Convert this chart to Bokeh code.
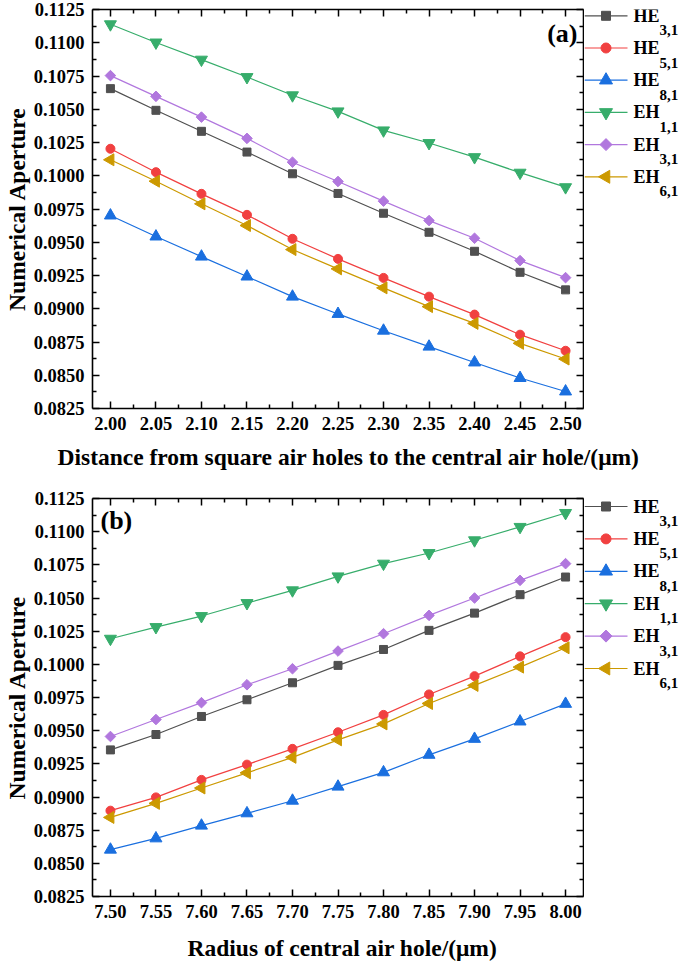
import math
from bokeh.plotting import figure
from bokeh.models import (LinearAxis, FixedTicker, NumeralTickFormatter, Range1d,
                          Label, Title, CustomJSTickFormatter)
from bokeh.core.properties import value
from bokeh.layouts import column, row
from bokeh.embed import file_html
from bokeh.resources import INLINE

# ---------------- data ----------------
x_a = [2.00, 2.05, 2.10, 2.15, 2.20, 2.25, 2.30, 2.35, 2.40, 2.45, 2.50]
he31_a = [0.10655, 0.10492, 0.10334, 0.10178, 0.10015, 0.09867, 0.09718, 0.09575, 0.09432, 0.09274, 0.09142]
he51_a = [0.10203, 0.10027, 0.09864, 0.09706, 0.09526, 0.09375, 0.09232, 0.09091, 0.08956, 0.08805, 0.08684]
he81_a = [0.09701, 0.09543, 0.09392, 0.09242, 0.09091, 0.08961, 0.08835, 0.08715, 0.08596, 0.08479, 0.08378]
eh11_a = [0.11139, 0.11002, 0.10873, 0.10742, 0.10605, 0.10484, 0.10341, 0.10246, 0.10140, 0.10023, 0.09914]
eh31_a = [0.10753, 0.10597, 0.10441, 0.10281, 0.10102, 0.09957, 0.09809, 0.09663, 0.09530, 0.09362, 0.09234]
eh61_a = [0.10120, 0.09959, 0.09789, 0.09626, 0.09445, 0.09300, 0.09157, 0.09016, 0.08890, 0.08740, 0.08622]

x_b = [7.50, 7.55, 7.60, 7.65, 7.70, 7.75, 7.80, 7.85, 7.90, 7.95, 8.00]
he31_b = [0.09355, 0.09471, 0.09607, 0.09733, 0.09861, 0.09992, 0.10112, 0.10256, 0.10386, 0.10525, 0.10658]
he51_b = [0.08897, 0.08997, 0.09129, 0.09244, 0.09363, 0.09488, 0.09619, 0.09773, 0.09911, 0.10060, 0.10205]
he81_b = [0.08603, 0.08688, 0.08784, 0.08877, 0.08972, 0.09078, 0.09186, 0.09318, 0.09438, 0.09569, 0.09702]
eh11_b = [0.10193, 0.10281, 0.10364, 0.10462, 0.10558, 0.10663, 0.10759, 0.10839, 0.10935, 0.11036, 0.11141]
eh31_b = [0.09456, 0.09584, 0.09711, 0.09846, 0.09967, 0.10100, 0.10231, 0.10369, 0.10500, 0.10633, 0.10759]
eh61_b = [0.08846, 0.08952, 0.09068, 0.09182, 0.09299, 0.09431, 0.09551, 0.09705, 0.09841, 0.09979, 0.10125]

mode_names = ["HE", "HE", "HE", "EH", "EH", "EH"]
mode_subs = ["3,1", "5,1", "8,1", "1,1", "3,1", "6,1"]

y_ticks = [0.0825, 0.0850, 0.0875, 0.0900, 0.0925, 0.0950, 0.0975, 0.1000,
           0.1025, 0.1050, 0.1075, 0.1100, 0.1125]
y_minor = [0.08375, 0.08625, 0.08875, 0.09125, 0.09375, 0.09625, 0.09875,
           0.10125, 0.10375, 0.10625, 0.10875, 0.11125]
xa_ticks = [2.00, 2.05, 2.10, 2.15, 2.20, 2.25, 2.30, 2.35, 2.40, 2.45, 2.50]
xa_minor = [2.025, 2.075, 2.125, 2.175, 2.225, 2.275, 2.325, 2.375, 2.425, 2.475]
xb_ticks = [7.50, 7.55, 7.60, 7.65, 7.70, 7.75, 7.80, 7.85, 7.90, 7.95, 8.00]
xb_minor = [7.525, 7.575, 7.625, 7.675, 7.725, 7.775, 7.825, 7.875, 7.925, 7.975]

colors = ["#505050", "#F14040", "#1A6FDF", "#37AD6B", "#B177DE", "#CC9900"]
markers = [("square", 0.0, 8), ("circle", 0.0, 9), ("triangle", 0.0, 12),
           ("inverted_triangle", 0.0, 12), ("square", math.pi / 4, 7.5),
           ("triangle", math.pi / 2, 12)]

FONT = "Liberation Serif"
MAIN_W = 584
LEG_W = 101
BL = 89
BR = 1


def style_axis(ax, show_labels=True):
    ax.axis_line_width = 1.6
    ax.axis_line_color = "black"
    ax.major_tick_in = 7
    ax.major_tick_out = 0
    ax.minor_tick_in = 4
    ax.minor_tick_out = 0
    ax.major_tick_line_width = 1.5
    ax.minor_tick_line_width = 1.5
    ax.major_tick_line_color = "black"
    ax.minor_tick_line_color = "black"
    ax.major_label_text_font = FONT
    ax.major_label_text_font_style = "bold"
    ax.major_label_text_color = "black"
    ax.major_label_text_font_size = "18.5px"
    if show_labels:
        ax.major_label_standoff = 8
    else:
        ax.formatter = CustomJSTickFormatter(code="return ''")
        ax.major_label_standoff = 0
    ax.axis_label_text_font = FONT
    ax.axis_label_text_font_style = "bold"
    ax.axis_label_text_font_size = "23.5px"
    ax.axis_label_text_color = "black"


def make_panel(xs, series, xticks, xminor, xr, tag, height,
               b_top, b_bottom, rows, tag_pos):
    p = figure(width=MAIN_W, height=height, output_backend="svg", toolbar_location=None,
               x_range=Range1d(*xr), y_range=Range1d(0.0825, 0.1125),
               min_border_left=BL, min_border_right=BR,
               min_border_top=b_top, min_border_bottom=b_bottom)
    p.outline_line_color = None
    p.xgrid.visible = False
    p.ygrid.visible = False
    p.background_fill_color = "white"
    p.border_fill_color = "white"

    p.xaxis.ticker = FixedTicker(ticks=xticks, minor_ticks=xminor)
    p.xaxis.formatter = NumeralTickFormatter(format="0.00")
    p.yaxis.ticker = FixedTicker(ticks=y_ticks, minor_ticks=y_minor)
    p.yaxis.formatter = NumeralTickFormatter(format="0.0000")
    p.yaxis.axis_label = "Numerical Aperture"
    style_axis(p.xaxis[0])
    style_axis(p.yaxis[0])
    p.xaxis[0].major_label_standoff = 8
    p.yaxis[0].major_label_standoff = 8
    p.yaxis[0].axis_label_standoff = 1

    top_ax = LinearAxis(ticker=FixedTicker(ticks=xticks, minor_ticks=xminor))
    right_ax = LinearAxis(ticker=FixedTicker(ticks=y_ticks, minor_ticks=y_minor))
    style_axis(top_ax, False)
    style_axis(right_ax, False)
    p.add_layout(top_ax, "above")
    p.add_layout(right_ax, "right")

    for i, ys in enumerate(series):
        c = colors[i]
        mk, ang, sz = markers[i]
        p.line(xs, ys, line_color=c, line_width=1.2)
        p.scatter(xs, ys, marker=mk, angle=ang, size=sz, fill_color=c, line_color=c)

    frame_h = height - b_top - b_bottom
    tx, ty, align = tag_pos
    p.add_layout(Label(x=tx, y=frame_h - (ty - b_top), x_units="screen", y_units="screen",
                       text=tag, text_font=FONT, text_font_style="bold",
                       text_font_size="26px", text_baseline="middle",
                       text_align=align, text_color="black"))

    # legend column: its frame is aligned with the plot frame; data units = canvas pixels
    lf = figure(width=LEG_W, height=height, output_backend="svg", toolbar_location=None,
                x_range=Range1d(0, LEG_W), y_range=Range1d(height - b_bottom, b_top),
                x_axis_type=None, y_axis_type=None,
                min_border_left=0, min_border_right=0,
                min_border_top=b_top, min_border_bottom=b_bottom)
    lf.outline_line_color = None
    lf.xgrid.visible = False
    lf.ygrid.visible = False
    lf.background_fill_color = "white"
    lf.border_fill_color = "white"
    lf.segment(x0=[0] * 6, x1=[43] * 6, y0=rows, y1=rows, line_color=colors, line_width=1.2)
    for i in range(6):
        mk, ang, sz = markers[i]
        lf.scatter(x=[21.5], y=[rows[i]], marker=mk, angle=ang, size=sz + 1,
                   fill_color=colors[i], line_color=colors[i])
    lf.text(x=[49] * 6, y=rows, text=mode_names, text_font=value(FONT),
            text_font_style="bold", text_font_size="18px", text_baseline="middle",
            text_align="left", text_color="black")
    lf.text(x=[75] * 6, y=[r + 14.5 for r in rows], text=mode_subs, text_font=value(FONT),
            text_font_style="bold", text_font_size="15px", text_baseline="alphabetic",
            text_align="left", text_color="black")
    return row(p, lf, spacing=0)


def title_strip(text, height, top, left):
    t = figure(width=MAIN_W + LEG_W, height=height, output_backend="svg", toolbar_location=None,
               x_axis_type=None, y_axis_type=None,
               min_border_left=0, min_border_right=0, min_border_top=top, min_border_bottom=0)
    t.outline_line_color = None
    t.xgrid.visible = False
    t.ygrid.visible = False
    t.title = None
    t.add_layout(Title(text=text, align="left", offset=left, standoff=0,
                       text_font=FONT, text_font_style="bold", text_font_size="23.5px",
                       text_color="black"), "above")
    return t


series_a = [he31_a, he51_a, he81_a, eh11_a, eh31_a, eh61_a]
series_b = [he31_b, he51_b, he81_b, eh11_b, eh31_b, eh61_b]

rows_a = [15.3 + 32.2 * i for i in range(6)]
rows_b = [32 + 32.4 * i for i in range(6)]

# panel (a): canvas 0..437, frame 9..408
ra = make_panel(x_a, series_a, xa_ticks, xa_minor, (1.9803, 2.5197), "(a)",
                437, 9, 29, rows_a, (485, 33, "right"))
ta = title_strip("Distance from square air holes to the central air hole/(\u03bcm)", 37, 32, 57)
# panel (b): canvas 474..925, frame 498..896
rb = make_panel(x_b, series_b, xb_ticks, xb_minor, (7.4803, 8.0197), "(b)",
                451, 24, 29, rows_b, (8, 46, "left"))
tb = title_strip("Radius of central air hole/(\u03bcm)", 36, 35, 187)

layout = column(ra, ta, rb, tb, spacing=0)
open("out.html", "w").write(file_html(layout, INLINE))
